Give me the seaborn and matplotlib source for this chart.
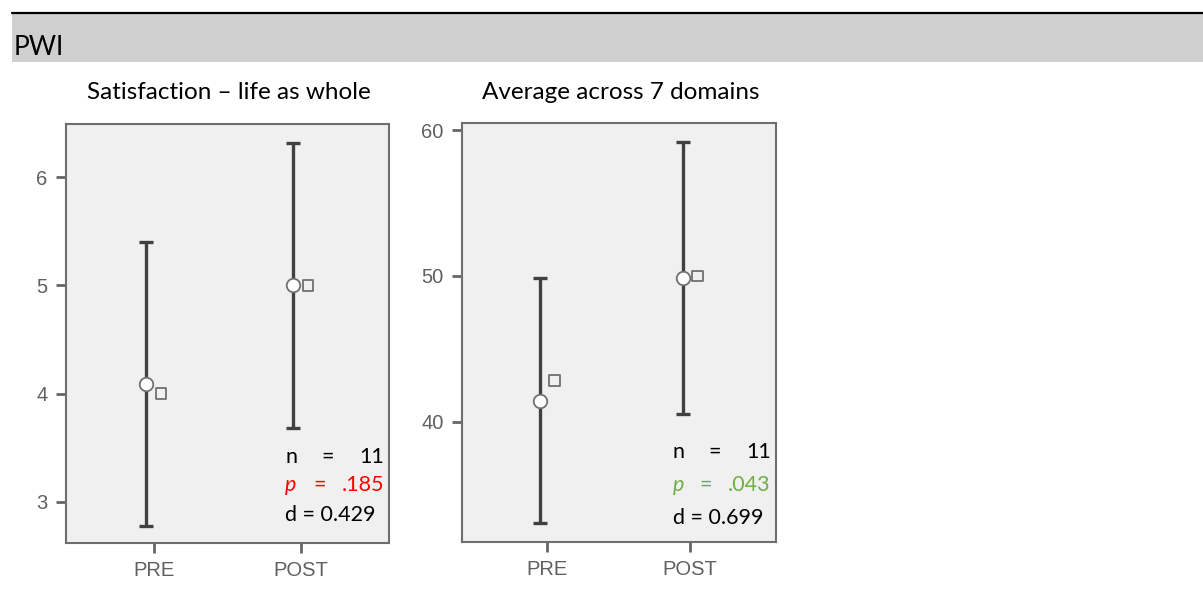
import matplotlib
matplotlib.use("Agg")
import matplotlib.pyplot as plt
from matplotlib.lines import Line2D
from matplotlib.patches import Rectangle
import seaborn as sns
import pandas as pd

# ---- data -------------------------------------------------------------
groups = ["PRE", "POST"]

life_mean = [4.09, 5.00]
life_median = [4.00, 5.00]
life_lo = [2.78, 3.68]
life_hi = [5.40, 6.31]

dom_mean = [41.40, 49.85]
dom_median = [42.85, 50.00]
dom_lo = [33.05, 40.55]
dom_hi = [49.85, 59.20]

life_stats = ["11", ".185", "0.429"]
dom_stats = ["11", ".043", "0.699"]

# ---- style ------------------------------------------------------------
sns.set_theme(style="white")
plt.rcParams["font.family"] = ["Liberation Sans", "DejaVu Sans"]

TEXT_FONT = ["Lato", "DejaVu Sans"]
BAR_COL = "#404040"
SPINE_COL = "#6e6e6e"
TICK_COL = "#666666"

fig = plt.figure(figsize=(12.03, 6.05), dpi=100)
fig.patch.set_facecolor("white")

# header band with rule above it
fig.patches.append(Rectangle((0.010, 0.8975), 0.990, 0.0795, transform=fig.transFigure,
                             facecolor="#d0cfcf", edgecolor="none", zorder=0))
fig.lines.append(Line2D([0.010, 1.0], [0.9785, 0.9785], transform=fig.transFigure,
                        color="black", lw=1.6))
fig.text(0.0115, 0.909, "PWI", family=TEXT_FONT, fontsize=19, color="black",
         ha="left", va="baseline")


def panel(rect, mean, median, lo, hi, ylim, yticks, stats, pcolor, xs):
    ax = fig.add_axes(rect)
    ax.set_facecolor("#f0f0f0")
    df = pd.DataFrame({"group": groups, "mean": mean, "median": median,
                       "lo": lo, "hi": hi, "x": [0, 1]})
    # confidence intervals around the mean
    ax.errorbar(df["x"] - 0.05, df["mean"],
                yerr=[df["mean"] - df["lo"], df["hi"] - df["mean"]],
                fmt="none", ecolor=BAR_COL, elinewidth=2.4, capsize=4.8,
                capthick=2.4, zorder=2)
    # mean (circle) and median (square)
    sns.scatterplot(x=df["x"] - 0.05, y=df["mean"], ax=ax, marker="o", s=95,
                    facecolor="white", edgecolor="#707070", linewidth=1.3, zorder=3)
    sns.scatterplot(x=df["x"] + 0.05, y=df["median"], ax=ax, marker="s", s=60,
                    facecolor="none", edgecolor="#707070", linewidth=1.3, zorder=3)
    ax.set_xlim(-0.6, 1.6)
    ax.set_ylim(*ylim)
    ax.set_xticks([0, 1])
    ax.set_xticklabels(groups)
    ax.set_yticks(yticks)
    ax.set_xlabel("")
    ax.set_ylabel("")
    for s in ax.spines.values():
        s.set_visible(True)
        s.set_color(SPINE_COL)
        s.set_linewidth(1.5)
    ax.tick_params(axis="both", which="major", direction="out", length=7, width=2,
                   color=TICK_COL, labelcolor="#606060", labelsize=14.5, pad=6,
                   bottom=True, left=True)

    nx, eq1, eq2, rx = xs[0]
    y1, y2, y3 = xs[1]
    kw = dict(transform=ax.transAxes, family=TEXT_FONT, fontsize=15.5, va="center")
    ax.text(nx, y1, "n", ha="left", color="black", **kw)
    ax.text(eq1, y1, "=", ha="center", color="black", **kw)
    ax.text(rx, y1, stats[0], ha="right", color="black", **kw)
    ax.text(nx, y2, "p", ha="left", color=pcolor, style="italic", **kw)
    ax.text(eq2, y2, "=", ha="center", color=pcolor, **kw)
    ax.text(rx, y2, stats[1], ha="right", color=pcolor, **kw)
    ax.text(nx, y3, "d = " + stats[2], ha="left", color="black", **kw)
    return ax


panel([0.0546, 0.1025, 0.2685, 0.6926], life_mean, life_median, life_lo, life_hi,
      (2.62, 6.49), [3, 4, 5, 6], life_stats, "#ff0000",
      ((0.679, 0.812, 0.787, 0.986), (0.206, 0.138, 0.067)))
panel([0.3838, 0.1046, 0.2610, 0.6916], dom_mean, dom_median, dom_lo, dom_hi,
      (31.78, 60.46), [40, 50, 60], dom_stats, "#70ad47",
      ((0.672, 0.807, 0.778, 0.984), (0.215, 0.1355, 0.056)))

fig.text(0.190, 0.8364, "Satisfaction \u2013 life as whole", family=TEXT_FONT,
         fontsize=17.5, color="black", ha="center", va="baseline")
fig.text(0.5158, 0.8364, "Average across 7 domains", family=TEXT_FONT,
         fontsize=17.5, color="black", ha="center", va="baseline")

fig.savefig("out.png", dpi=100)
